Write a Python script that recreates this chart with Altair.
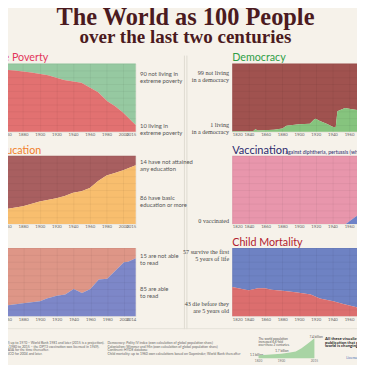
import altair as alt
import pandas as pd

# ---------------- data (shares in % of world population) ----------------
poverty_years = [1820, 1850, 1870, 1890, 1910, 1929, 1950, 1960, 1970, 1981, 1990, 1999, 2005, 2010, 2015]
poverty_share = [94, 92, 90, 87, 83, 76, 72, 65, 58, 45, 38, 29, 22, 16, 10]

democracy_years = [1820, 1840, 1845, 1848, 1850, 1870, 1880, 1885, 1900, 1913, 1918, 1920, 1925, 1933, 1941, 1944, 1946, 1955, 1960, 1970, 1975, 1985, 1990, 2000, 2015]
democracy_share = [1, 1, 1, 4, 2, 3, 5, 9, 11, 12, 18, 19, 16, 12, 7, 7, 30, 35, 34, 32, 31, 38, 50, 55, 56]

education_years = [1820, 1840, 1860, 1880, 1900, 1920, 1930, 1940, 1950, 1960, 1970, 1980, 1990, 2000, 2015]
education_share = [17, 19, 22, 26, 33, 38, 41, 46, 48, 53, 63, 71, 75, 79, 86]

vaccination_years = [1820, 1956, 1980, 1985, 1990, 1995, 2000, 2005, 2010, 2015]
vaccination_share = [0, 0, 22, 50, 75, 72, 72, 78, 84, 86]

literacy_years = [1820, 1860, 1880, 1900, 1908, 1920, 1930, 1940, 1950, 1960, 1970, 1980, 1990, 2000, 2005, 2014]
literacy_share = [12, 16, 19, 22, 26, 30, 32, 40, 34, 40, 54, 55, 67, 79, 80, 85]

mortality_years = [1820, 1836, 1840, 1851, 1859, 1867, 1883, 1898, 1914, 1925, 1941, 1953, 1968, 1974, 1990, 2000, 2015]
mortality_share = [43, 39, 38, 41, 41, 39, 37, 35, 32, 26, 22, 18, 13.5, 11, 9, 7.5, 4.3]

population_years = [1820, 1850, 1900, 1930, 1950, 1970, 1990, 2000, 2015]
population_billion = [1.1, 1.3, 1.7, 2.1, 2.5, 3.7, 5.3, 6.1, 7.4]
population_labels = ["1820", "1900", "2015"]

ticks_2015 = [1820, 1840, 1860, 1880, 1900, 1920, 1940, 1960, 1980, 2000, 2015]
ticks_2014 = [1820, 1840, 1860, 1880, 1900, 1920, 1940, 1960, 1980, 2000, 2014]

# ---------------- styling ----------------
BG = "#f6f2ea"
W = 167
H = 70
SANS = "Lato"
SERIF = "Liberation Serif"
one = pd.DataFrame({"k": [0]})


def panel(years, share, top_color, bottom_color, ticks, end):
    df = pd.DataFrame({"year": years, "share": share})
    grid = dict(gridColor="#000000", gridOpacity=0.08, gridWidth=0.6, zindex=1)
    x = alt.X("year:Q", scale=alt.Scale(domain=[1820, end], nice=False, zero=False),
              axis=alt.Axis(values=ticks, format="d", title=None, labelFontSize=4.4,
                            labelColor="#666666", labelFont=SANS, ticks=False, labelPadding=1,
                            domain=False, labelOverlap=False, **grid))
    y = alt.Y("share:Q", scale=alt.Scale(domain=[0, 100], nice=False),
              axis=alt.Axis(values=list(range(0, 101, 10)), labels=False, ticks=False,
                            domain=False, title=None, **grid))
    top = alt.Chart(df).mark_area(color=top_color, opacity=1).encode(x=x, y=y, y2=alt.datum(100))
    bottom = alt.Chart(df).mark_area(color=bottom_color, opacity=1).encode(x=x, y=y)
    return [top, bottom]


def txt(lines, x, y, size=6, color="#555555", align="left", baseline="middle",
        font=SANS, weight="normal", lh=None):
    return alt.Chart(one).mark_text(
        text=lines, align=align, baseline=baseline, fontSize=size, color=color,
        font=font, fontWeight=weight, lineHeight=lh if lh else size * 1.15
    ).encode(x=alt.value(x), y=alt.value(y))


def rule(x1, x2, y1, y2, color, width=1.0, opacity=1.0):
    return alt.Chart(one).mark_rule(color=color, strokeWidth=width, opacity=opacity).encode(
        x=alt.value(x1), x2=alt.value(x2), y=alt.value(y1), y2=alt.value(y2))


# ---------------- row 1 ----------------
poverty = alt.layer(
    *panel(poverty_years, poverty_share, "#96c9a1", "#e27171", ticks_2015, 2015),
    rule(-130, -129, -83, -83, "#000000", 1, 0),  # layout anchor (invisible)
    txt("The World as 100 People", 218, -39.7, size=25, color="#4b1a20", align="center",
        baseline="alphabetic", font=SERIF, weight="bold"),
    txt("over the last two centuries", 218, -21.3, size=19.5, color="#4b1a20", align="center",
        baseline="alphabetic", font=SERIF, weight="bold"),
    txt("Extreme Poverty", -3, -2.3, size=11, color="#e2365b", baseline="alphabetic"),
    txt(["90 not living in", "extreme poverty"], 171.5, 11, lh=7.2),
    txt(["10 living in", "extreme poverty"], 171.5, 64.1, lh=7.2),
    rule(217, 217, -8.2, 272.4, "#d9d4cb", 0.8),
    rule(219.5, 219.5, -8.2, 272.4, "#d9d4cb", 0.8),
    rule(-117, 563, 271.9, 271.9, "#e2ddd4", 0.8),
).properties(width=W, height=H)

democracy = alt.layer(
    *panel(democracy_years, democracy_share, "#a0524f", "#86c47e", ticks_2015, 2015),
    txt("Democracy", 0, -2.3, size=11, color="#2e9e46", baseline="alphabetic"),
    txt(["99 not living", "in a democracy"], -3.2, 9.3, align="right", font=SERIF, size=6.3, lh=7.2, color="#444444"),
    txt(["1 living", "in a democracy"], -3.2, 63.1, align="right", font=SERIF, size=6.3, lh=7.2, color="#444444"),
).properties(width=W, height=H)

# ---------------- row 2 ----------------
education = alt.layer(
    *panel(education_years, education_share, "#a85f60", "#f8be6e", ticks_2015, 2015),
    txt("Basic Education", -6, -1.8, size=11, color="#f07f2a", baseline="alphabetic"),
    txt(["14 have not attained", "any education"], 171.5, 6.2, lh=7.2),
    txt(["86 have basic", "education or more"], 171.5, 43.4, lh=7.2),
).properties(width=W, height=H)

vaccination = alt.layer(
    *panel(vaccination_years, vaccination_share, "#e896ac", "#6e82c8", ticks_2015, 2015),
    txt("Vaccination", 0, -1.8, size=11.3, color="#2d2b6e", baseline="alphabetic"),
    txt("against diphtheria, pertussis (whooping cough), and tetanus", 54.5, -2, size=5.3,
        color="#2d2b6e", baseline="alphabetic"),
    txt("0 vaccinated", -3.2, 66.8, align="right", font=SERIF, size=6.3, color="#444444"),
).properties(width=W, height=H)

# ---------------- row 3 ----------------
src_left = [
    ("Extreme poverty: Bourguignon and Morrisson (2002) up to 1970 \u2013 World Bank 1981 and later (2015 is a projection).", 134.7),
    ("Vaccination: WHO (global vaccination coverage from 1980 to 2015 \u2013 the DPT3 vaccination was licensed in 1949).", 129.7),
    ("Basic education: van Leeuwen and van Leeuwen-Li (2014) and IIASA for the time thereafter.", 78),
    ("Literacy: OECD (2014) up to 2000 and UNESCO for 2004 and later.", 71.3),
]
src_right = [
    "Democracy: Polity IV index (own calculation of global population share)",
    "Colonialism: Wimmer and Min (own calculation of global population share)",
    "Continent: HYDE database",
    "Child mortality: up to 1960 own calculations based on Gapminder; World Bank thereafter",
]
src_y = [97.9, 101.4, 105.1, 108.6]

lit_layers = panel(literacy_years, literacy_share, "#de9687", "#7d87c8", ticks_2014, 2014)
lit_layers += [
    txt(["15 are not able", "to read"], 171.5, 8.2, lh=7.2),
    txt(["85 are able", "to read"], 171.5, 42.4, lh=7.2),
]
for (s, xe), yy in zip(src_left, src_y):
    lit_layers.append(txt(s, xe, yy, size=3.5, color="#666666", align="right"))
for s, yy in zip(src_right, src_y):
    lit_layers.append(txt(s, 138, yy, size=3.5, color="#666666"))
literacy = alt.layer(*lit_layers).properties(width=W, height=H)

pop_df = pd.DataFrame({"year": population_years, "pop": population_billion})
pop_lab = pd.DataFrame({"year": [int(v) for v in population_labels], "lab": population_labels})
px = alt.X("year:Q", scale=alt.Scale(domain=[1820, 2015], range=[27, 84.3], nice=False, zero=False), axis=None)
py = alt.Y("pop:Q", scale=alt.Scale(domain=[0, 7.4], range=[113, 92.6], nice=False), axis=None)
pop_area = alt.Chart(pop_df).mark_area(color="#a8d4a4").encode(x=px, y=py)
pop_axis = alt.Chart(pop_lab).mark_text(fontSize=3.3, color="#777777", font=SANS).encode(
    x=px, y=alt.value(116.1), text="lab:N")
pop_layer = alt.layer(pop_area, pop_axis)

mort_main = alt.layer(
    *panel(mortality_years, mortality_share, "#6e82c3", "#dc6e6e", ticks_2015, 2015),
    txt("Child Mortality", 0, -2.6, size=11, color="#b1202e", baseline="alphabetic"),
    txt(["57 survive the first", "5 years of life"], -3.2, 4.1, align="right", font=SERIF, size=6.3, lh=7.2, color="#444444"),
    txt(["43 die before they", "are 5 years old"], -3.2, 57.8, align="right", font=SERIF, size=6.3, lh=7.2, color="#444444"),
    txt(["The world population", "increased 6.6-fold", "over these 2 centuries."], 27, 93.1, size=3.2, lh=3.4, color="#555555"),
    txt("7.4 billion", 86, 91.4, size=3.2, align="center", color="#555555"),
    txt("1.7 billion", 51, 105.8, size=3.2, align="center", color="#555555"),
    txt("1.1 billion", 25, 110.2, size=3.2, align="center", color="#555555"),
    txt(["All these visualizations are taken from OurWorldInData.org", "publication that presents the empirical evidence",
         "world is changing."], 95.3, 93.8, size=4.4, lh=3.6, color="#222222", weight="bold"),
    txt("Licenses", 117, 113.3, size=3.6, color="#4a6fb5"),
    rule(307, 308, 133, 133, "#000000", 1, 0),  # layout anchor (invisible)
)
mortality = alt.layer(mort_main, pop_layer).resolve_scale(
    x="independent", y="independent").properties(width=W, height=H)

chart = alt.concat(
    poverty, democracy, education, vaccination, literacy, mortality,
    columns=2, spacing={"row": 24.6, "column": 99}, bounds="flush",
).properties(
    background=BG,
    padding={"left": -166, "top": -30.6, "right": -180, "bottom": -16},
).configure_view(strokeWidth=0)

chart.save("out.html", embed_options={"renderer": "svg", "actions": False})
